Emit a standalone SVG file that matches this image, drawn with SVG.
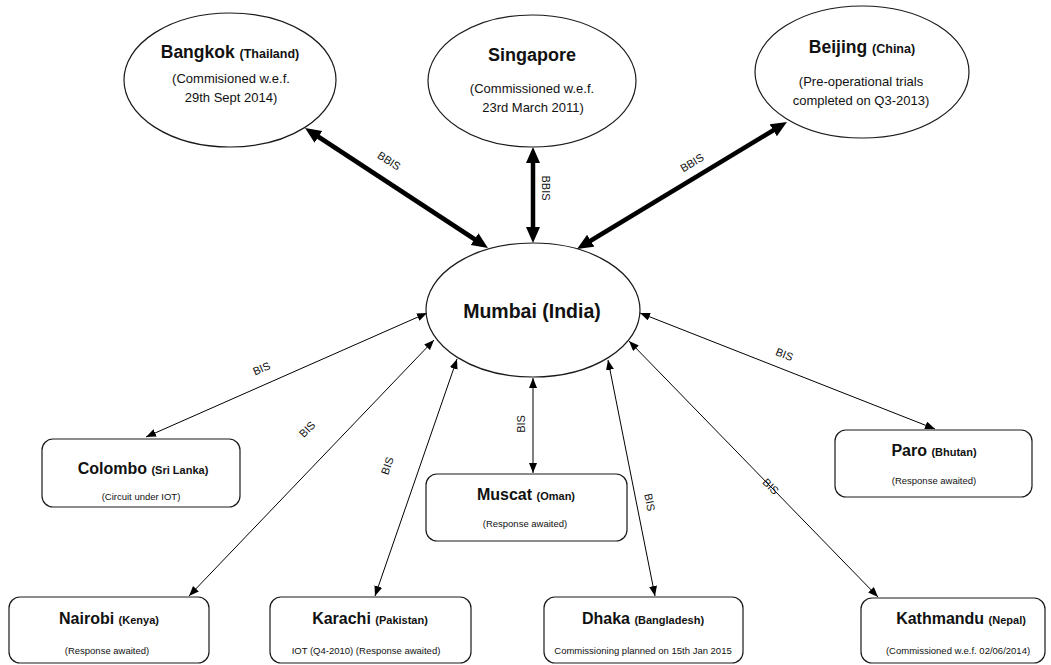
<svg xmlns="http://www.w3.org/2000/svg" width="1051" height="665" viewBox="0 0 1051 665">
<style>
.node{fill:#fff;stroke:#1a1a1a;stroke-width:1.2}
.t{font-family:"Liberation Sans",Arial,sans-serif;fill:#111;text-anchor:middle}
.b{font-weight:bold}
.thick{stroke:#000;stroke-width:4.5;fill:none}
.thin{stroke:#000;stroke-width:1;fill:none}
.lbl{font-family:"Liberation Sans",Arial,sans-serif;font-size:11px;fill:#111;text-anchor:middle}
</style>
<defs>
<marker id="bigArrow" markerUnits="userSpaceOnUse" markerWidth="18" markerHeight="16" refX="6" refY="7" orient="auto-start-reverse">
<path d="M0,0 L16,7 L0,14 z" fill="#000"/>
</marker>
<marker id="smallArrow" markerUnits="userSpaceOnUse" markerWidth="11" markerHeight="9" refX="10" refY="4" orient="auto-start-reverse">
<path d="M0,0 L10,4 L0,8 z" fill="#000"/>
</marker>
</defs>
<rect width="1051" height="665" fill="#fff"/>

<g id="connectors">
<line class="thick" x1="313.4" y1="133.5" x2="479.6" y2="242.5" marker-start="url(#bigArrow)" marker-end="url(#bigArrow)"/>
<line class="thick" x1="533" y1="157" x2="533" y2="233" marker-start="url(#bigArrow)" marker-end="url(#bigArrow)"/>
<line class="thick" x1="778.4" y1="127.2" x2="585.6" y2="243.8" marker-start="url(#bigArrow)" marker-end="url(#bigArrow)"/>
<text class="lbl" transform="translate(387,164) rotate(33)">BBIS</text>
<text class="lbl" transform="translate(542,188) rotate(90)">BBIS</text>
<text class="lbl" transform="translate(694,166) rotate(-31)">BBIS</text>

<line class="thin" x1="427" y1="313" x2="146" y2="437" marker-start="url(#smallArrow)" marker-end="url(#smallArrow)"/>
<line class="thin" x1="434" y1="340" x2="189" y2="596" marker-start="url(#smallArrow)" marker-end="url(#smallArrow)"/>
<line class="thin" x1="457" y1="359" x2="375" y2="596" marker-start="url(#smallArrow)" marker-end="url(#smallArrow)"/>
<line class="thin" x1="533" y1="378" x2="533" y2="473" marker-start="url(#smallArrow)" marker-end="url(#smallArrow)"/>
<line class="thin" x1="608" y1="360" x2="655" y2="596" marker-start="url(#smallArrow)" marker-end="url(#smallArrow)"/>
<line class="thin" x1="629" y1="341" x2="878" y2="597" marker-start="url(#smallArrow)" marker-end="url(#smallArrow)"/>
<line class="thin" x1="640" y1="313" x2="935" y2="429" marker-start="url(#smallArrow)" marker-end="url(#smallArrow)"/>
<text class="lbl" transform="translate(263,372) rotate(-23.6)">BIS</text>
<text class="lbl" transform="translate(310,432) rotate(-46)">BIS</text>
<text class="lbl" transform="translate(391,467) rotate(-71)">BIS</text>
<text class="lbl" transform="translate(525,424) rotate(-90)">BIS</text>
<text class="lbl" transform="translate(646,503) rotate(79)">BIS</text>
<text class="lbl" transform="translate(768,489) rotate(46)">BIS</text>
<text class="lbl" transform="translate(783,358) rotate(22)">BIS</text>
</g>

<g id="bangkok">
<ellipse class="node" cx="230" cy="80" rx="106" ry="67"/>
<text class="t b" x="230" y="58"><tspan font-size="17.5">Bangkok </tspan><tspan font-size="12.5">(Thailand)</tspan></text>
<text class="t" x="231" y="83" font-size="13">(Commisioned w.e.f.</text>
<text class="t" x="231" y="102" font-size="13">29th Sept 2014)</text>
</g>

<g id="singapore">
<ellipse class="node" cx="532" cy="81" rx="104" ry="66"/>
<text class="t b" x="532" y="61" font-size="18">Singapore</text>
<text class="t" x="532" y="93" font-size="13">(Commissioned w.e.f.</text>
<text class="t" x="533" y="112" font-size="13">23rd March 2011)</text>
</g>

<g id="beijing">
<ellipse class="node" cx="862" cy="72" rx="107" ry="66"/>
<text class="t b" x="862" y="53"><tspan font-size="17.5">Beijing </tspan><tspan font-size="12.5">(China)</tspan></text>
<text class="t" x="861" y="86" font-size="13">(Pre-operational trials</text>
<text class="t" x="861" y="105" font-size="13">completed on Q3-2013)</text>
</g>

<g id="mumbai">
<ellipse class="node" cx="533" cy="310" rx="107" ry="67"/>
<text class="t b" x="532" y="318" font-size="19.5">Mumbai (India)</text>
</g>

<g id="colombo">
<rect class="node" x="42" y="439" width="198" height="68" rx="11"/>
<text class="t b" x="143" y="474"><tspan font-size="16">Colombo </tspan><tspan font-size="11">(Sri Lanka)</tspan></text>
<text class="t" x="141" y="500" font-size="9.5">(Circuit under IOT)</text>
</g>

<g id="muscat">
<rect class="node" x="426" y="474" width="201" height="67" rx="11"/>
<text class="t b" x="526" y="500"><tspan font-size="16">Muscat </tspan><tspan font-size="11">(Oman)</tspan></text>
<text class="t" x="525" y="527" font-size="9.5">(Response awaited)</text>
</g>

<g id="paro">
<rect class="node" x="835" y="430" width="197" height="67" rx="11"/>
<text class="t b" x="934" y="456"><tspan font-size="16">Paro </tspan><tspan font-size="11">(Bhutan)</tspan></text>
<text class="t" x="934" y="484" font-size="9.5">(Response awaited)</text>
</g>

<g id="nairobi">
<rect class="node" x="9" y="597" width="200" height="66" rx="11"/>
<text class="t b" x="109" y="624"><tspan font-size="16">Nairobi </tspan><tspan font-size="11">(Kenya)</tspan></text>
<text class="t" x="107" y="654" font-size="9.5">(Response awaited)</text>
</g>

<g id="karachi">
<rect class="node" x="270" y="597" width="201" height="66" rx="11"/>
<text class="t b" x="370" y="624"><tspan font-size="16">Karachi </tspan><tspan font-size="11">(Pakistan)</tspan></text>
<text class="t" x="366" y="654" font-size="9.5">IOT (Q4-2010) (Response awaited)</text>
</g>

<g id="dhaka">
<rect class="node" x="544" y="597" width="199" height="66" rx="11"/>
<text class="t b" x="643" y="624"><tspan font-size="16">Dhaka </tspan><tspan font-size="11">(Bangladesh)</tspan></text>
<text class="t" x="643" y="654" font-size="9.5">Commissioning planned on 15th Jan 2015</text>
</g>

<g id="kathmandu">
<rect class="node" x="861" y="598" width="184" height="65" rx="11"/>
<text class="t b" x="961" y="624"><tspan font-size="16">Kathmandu </tspan><tspan font-size="11">(Nepal)</tspan></text>
<text class="t" x="958" y="654" font-size="9.5">(Commissioned w.e.f. 02/06/2014)</text>
</g>
</svg>
